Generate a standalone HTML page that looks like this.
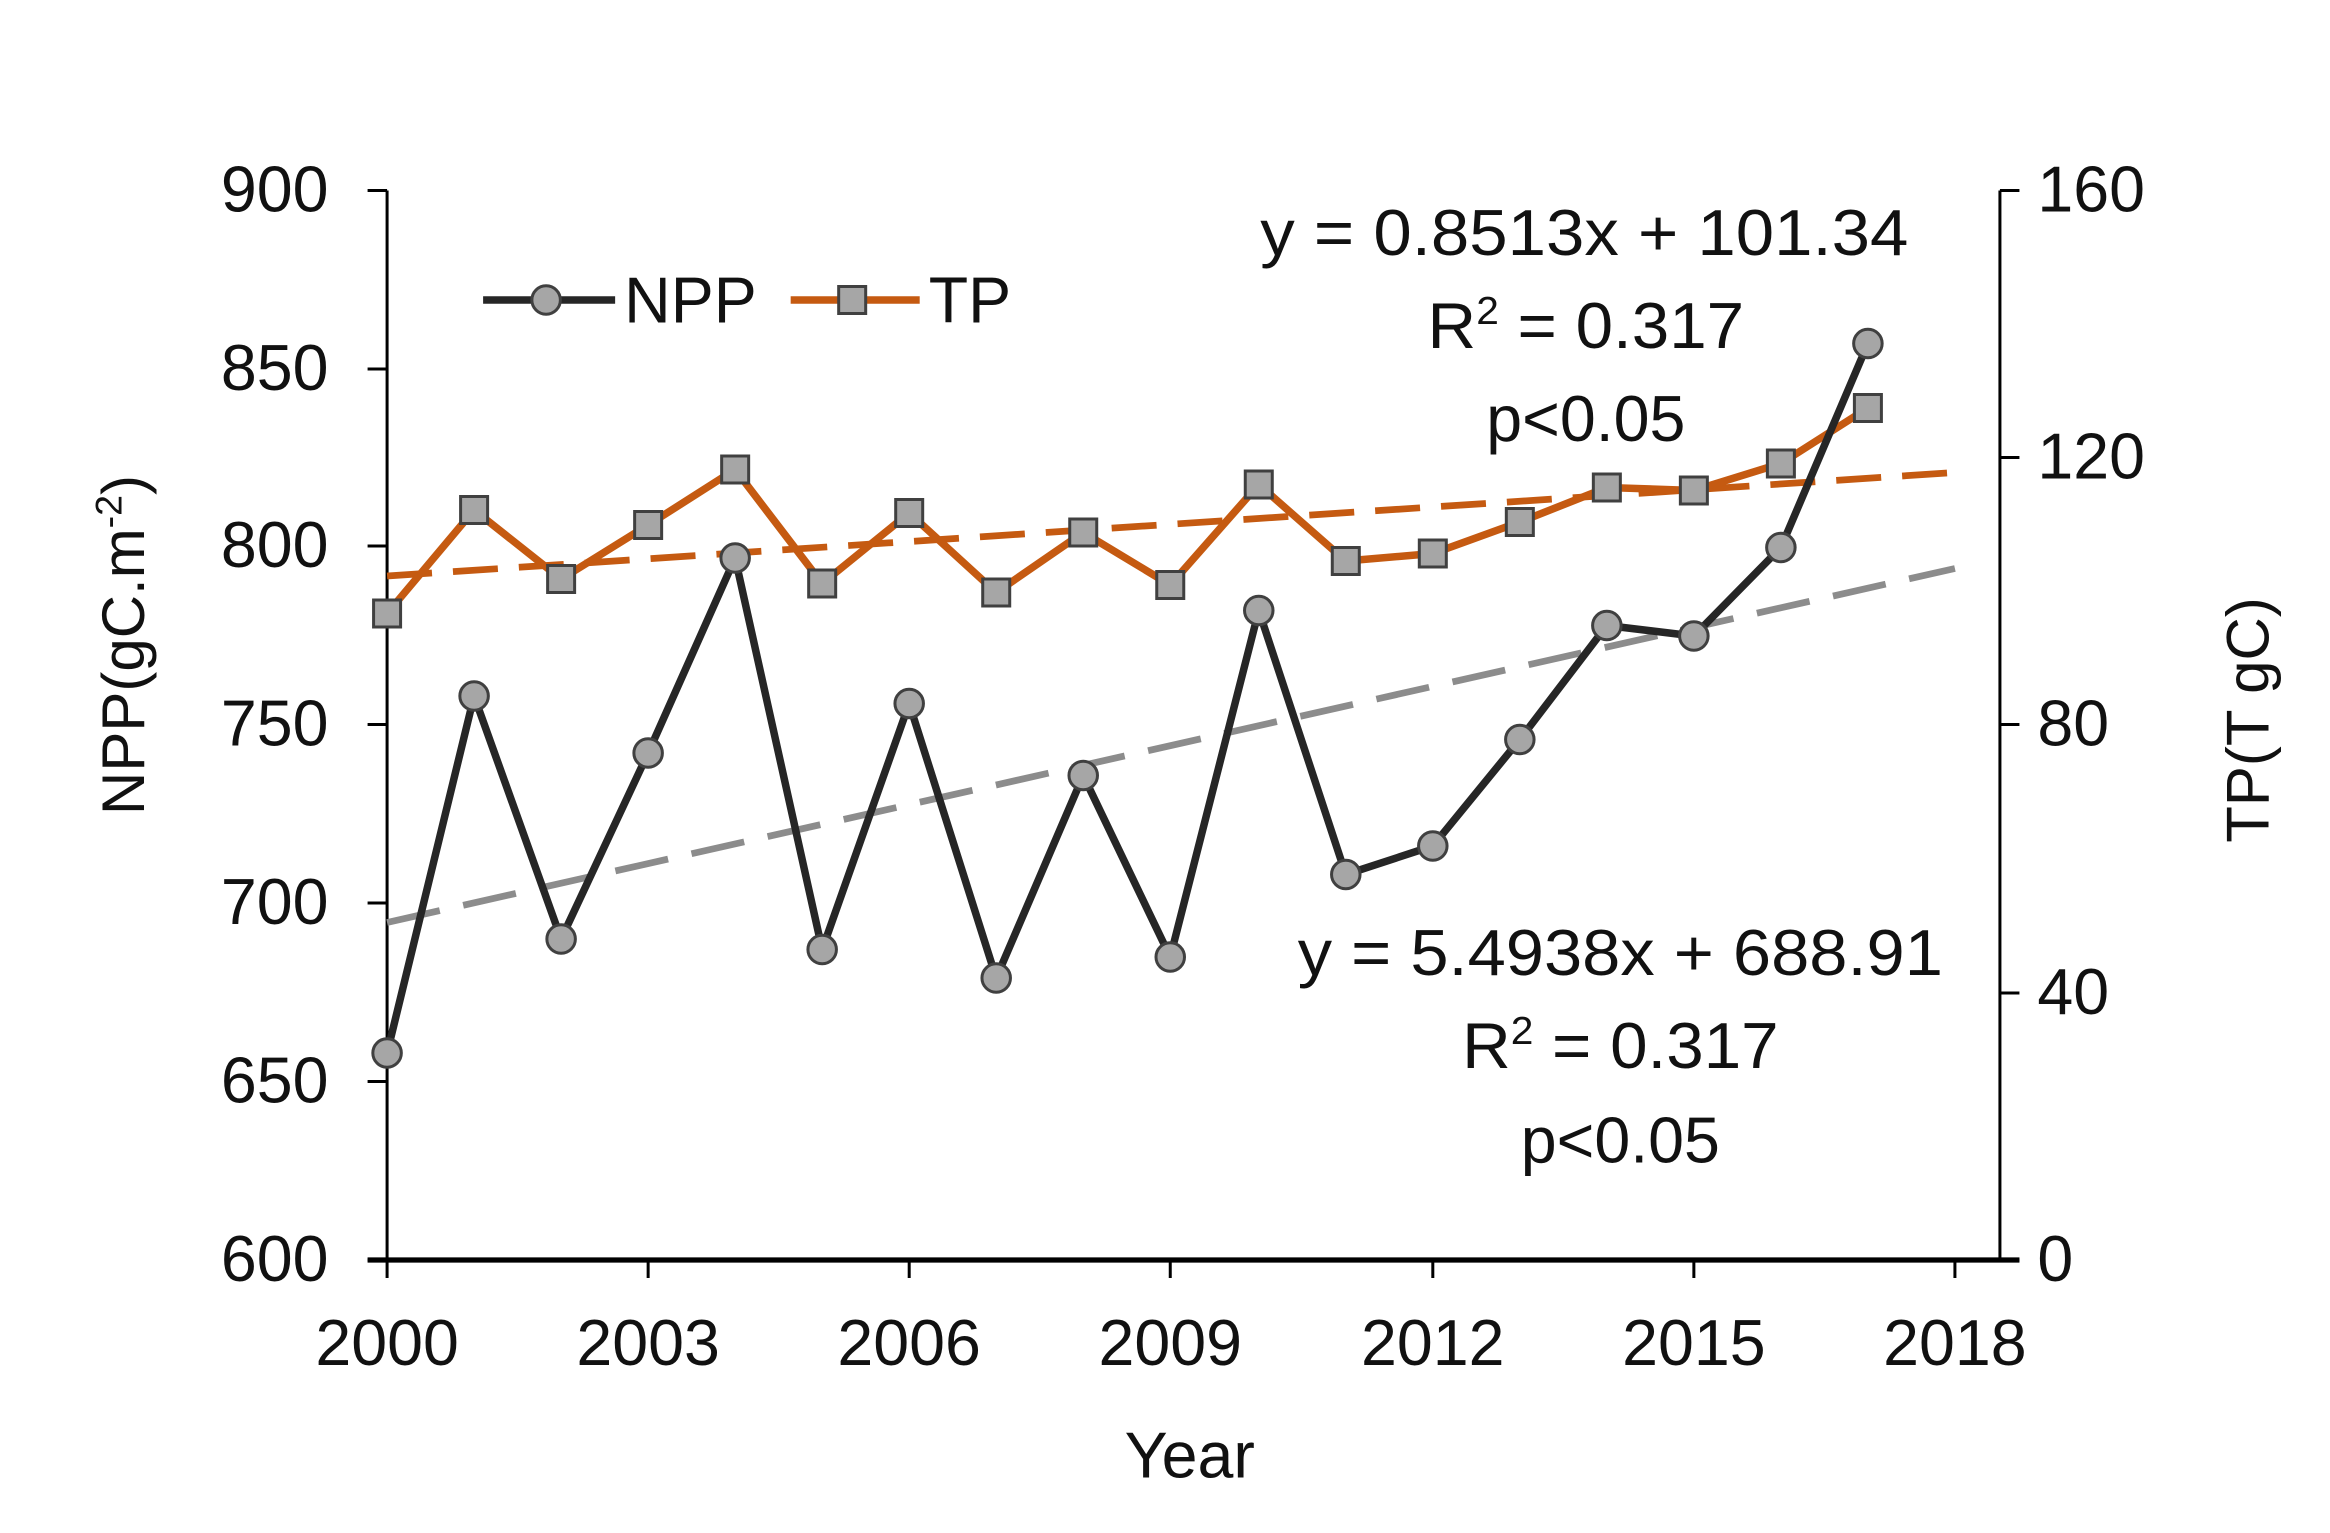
<!DOCTYPE html>
<html><head><meta charset="utf-8"><style>html,body{margin:0;padding:0;background:#fff}svg{display:block}</style></head>
<body>
<svg width="2330" height="1533" viewBox="0 0 1553 1022" preserveAspectRatio="none" xmlns="http://www.w3.org/2000/svg" font-family="Liberation Sans, sans-serif">
<rect width="1553" height="1022" fill="#fff"/>
<g stroke="#000" stroke-width="2" fill="none">
<line x1="258" y1="127" x2="258" y2="840"/>
<line x1="1333" y1="127" x2="1333" y2="840"/>
<line x1="245" y1="127" x2="258" y2="127"/><line x1="245" y1="246" x2="258" y2="246"/><line x1="245" y1="364" x2="258" y2="364"/><line x1="245" y1="483" x2="258" y2="483"/><line x1="245" y1="602" x2="258" y2="602"/><line x1="245" y1="721" x2="258" y2="721"/><line x1="245" y1="840" x2="258" y2="840"/>
<line x1="1333" y1="127" x2="1346" y2="127"/><line x1="1333" y1="305" x2="1346" y2="305"/><line x1="1333" y1="483" x2="1346" y2="483"/><line x1="1333" y1="662" x2="1346" y2="662"/><line x1="1333" y1="840" x2="1346" y2="840"/>
<line x1="432" y1="840" x2="432" y2="852"/><line x1="606" y1="840" x2="606" y2="852"/><line x1="780" y1="840" x2="780" y2="852"/><line x1="955" y1="840" x2="955" y2="852"/><line x1="1129" y1="840" x2="1129" y2="852"/><line x1="1303" y1="840" x2="1303" y2="852"/><line x1="258" y1="840" x2="258" y2="852"/>
</g>
<line x1="245" y1="840" x2="1346" y2="840" stroke="#000" stroke-width="3.5"/>
<g font-size="43" fill="#111">
<g text-anchor="end"><text x="219" y="141">900</text><text x="219" y="260">850</text><text x="219" y="378">800</text><text x="219" y="497">750</text><text x="219" y="616">700</text><text x="219" y="735">650</text><text x="219" y="854">600</text></g>
<g text-anchor="start"><text x="1358" y="141">160</text><text x="1358" y="319">120</text><text x="1358" y="497">80</text><text x="1358" y="676">40</text><text x="1358" y="854">0</text></g>
<g text-anchor="middle"><text x="258" y="910">2000</text><text x="432" y="910">2003</text><text x="606" y="910">2006</text><text x="780" y="910">2009</text><text x="955" y="910">2012</text><text x="1129" y="910">2015</text><text x="1303" y="910">2018</text>
<text x="793" y="985">Year</text></g>
<text transform="translate(96,430) rotate(-90)" text-anchor="middle" font-size="40">NPP(gC.m<tspan font-size="25" dy="-15">-2</tspan><tspan dy="15">)</tspan></text>
<text transform="translate(1512,480) rotate(-90)" text-anchor="middle" font-size="40">TP(T gC)</text>
</g>
<line x1="258" y1="615" x2="1303" y2="379" stroke="#8c8c8c" stroke-width="4.5" stroke-dasharray="36,16"/>
<line x1="258" y1="384" x2="1303" y2="315" stroke="#c55a11" stroke-width="4.5" stroke-dasharray="30,14"/>
<polyline fill="none" stroke="#c55a11" stroke-width="5" points="258,409 316,340 374,386 432,350 490,313 548,389 606,342 664,395 722,355 780,390 839,323 897,374 955,369 1013,348 1071,325 1129,327 1187,309 1245,272"/>
<g fill="#a6a6a6" stroke="#404040" stroke-width="2">
<rect x="249" y="400" width="18" height="18"/><rect x="307" y="331" width="18" height="18"/><rect x="365" y="377" width="18" height="18"/><rect x="423" y="341" width="18" height="18"/><rect x="481" y="304" width="18" height="18"/><rect x="539" y="380" width="18" height="18"/><rect x="597" y="333" width="18" height="18"/><rect x="655" y="386" width="18" height="18"/><rect x="713" y="346" width="18" height="18"/><rect x="771" y="381" width="18" height="18"/><rect x="830" y="314" width="18" height="18"/><rect x="888" y="365" width="18" height="18"/><rect x="946" y="360" width="18" height="18"/><rect x="1004" y="339" width="18" height="18"/><rect x="1062" y="316" width="18" height="18"/><rect x="1120" y="318" width="18" height="18"/><rect x="1178" y="300" width="18" height="18"/><rect x="1236" y="263" width="18" height="18"/>
</g>
<polyline fill="none" stroke="#262626" stroke-width="5" points="258,702 316,464 374,626 432,502 490,372 548,633 606,469 664,652 722,517 780,638 839,407 897,583 955,564 1013,493 1071,417 1129,424 1187,365 1245,229"/>
<g fill="#a6a6a6" stroke="#404040" stroke-width="2">
<circle cx="258" cy="702" r="9.5"/><circle cx="316" cy="464" r="9.5"/><circle cx="374" cy="626" r="9.5"/><circle cx="432" cy="502" r="9.5"/><circle cx="490" cy="372" r="9.5"/><circle cx="548" cy="633" r="9.5"/><circle cx="606" cy="469" r="9.5"/><circle cx="664" cy="652" r="9.5"/><circle cx="722" cy="517" r="9.5"/><circle cx="780" cy="638" r="9.5"/><circle cx="839" cy="407" r="9.5"/><circle cx="897" cy="583" r="9.5"/><circle cx="955" cy="564" r="9.5"/><circle cx="1013" cy="493" r="9.5"/><circle cx="1071" cy="417" r="9.5"/><circle cx="1129" cy="424" r="9.5"/><circle cx="1187" cy="365" r="9.5"/><circle cx="1245" cy="229" r="9.5"/>
</g>
<line x1="322" y1="200" x2="410" y2="200" stroke="#262626" stroke-width="5"/>
<circle cx="364" cy="200" r="9.5" fill="#a6a6a6" stroke="#404040" stroke-width="2"/>
<line x1="527" y1="200" x2="613" y2="200" stroke="#c55a11" stroke-width="5"/>
<rect x="559" y="191" width="18" height="18" fill="#a6a6a6" stroke="#404040" stroke-width="2"/>
<g font-size="43" fill="#111">
<text x="416" y="215">NPP</text><text x="619" y="215">TP</text>
<g text-anchor="middle">
<text x="1056" y="170" textLength="432" lengthAdjust="spacingAndGlyphs">y = 0.8513x + 101.34</text>
<text x="1057" y="232" textLength="211" lengthAdjust="spacingAndGlyphs">R<tspan font-size="26" dy="-16">2</tspan><tspan dy="16"> = 0.317</tspan></text>
<text x="1057" y="294">p&lt;0.05</text>
<text x="1080" y="650" textLength="430" lengthAdjust="spacingAndGlyphs">y = 5.4938x + 688.91</text>
<text x="1080" y="712" textLength="211" lengthAdjust="spacingAndGlyphs">R<tspan font-size="26" dy="-16">2</tspan><tspan dy="16"> = 0.317</tspan></text>
<text x="1080" y="775">p&lt;0.05</text>
</g></g>
</svg>
</body></html>
